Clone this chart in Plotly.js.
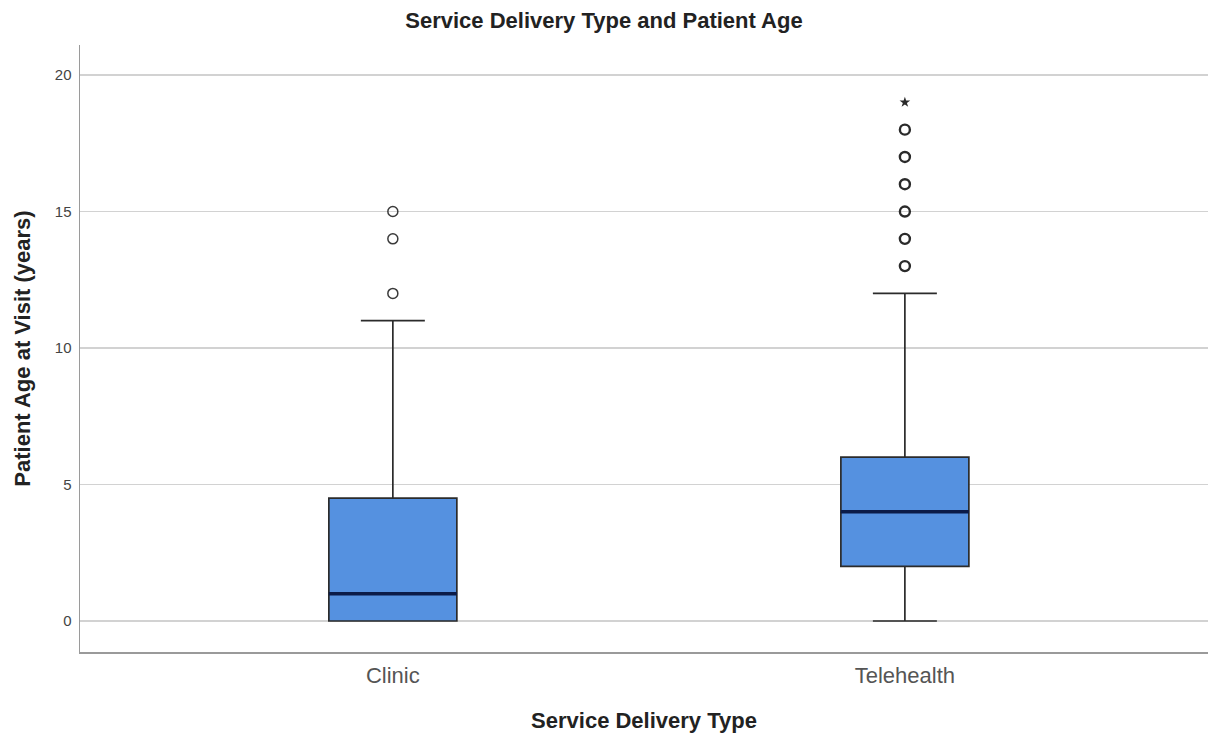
<!DOCTYPE html>
<html>
<head>
<meta charset="utf-8">
<script src="https://cdn.plot.ly/plotly-3.0.1.min.js"></script>
<style>html,body{margin:0;padding:0;background:#fff;}#chart{width:1208px;height:734px;}</style>
</head>
<body>
<div id="chart"></div>
<script>
// Data
const categories = ['Clinic', 'Telehealth'];
const lowerFence = [0, 0];
const q1 = [0, 2];
const median = [1, 4];
const q3 = [4.5, 6];
const upperFence = [11, 12];
const clinicOutliers = [12, 14, 15];
const telehealthOutliers = [13, 14, 15, 16, 17, 18];
const telehealthExtremes = [19];
const yTicks = [0, 5, 10, 15, 20];

const boxWidth = 0.25;
const font = 'Liberation Sans, Arial, sans-serif';

const traces = [
  {
    type: 'box',
    x: categories,
    q1: q1, median: median, q3: q3,
    lowerfence: lowerFence, upperfence: upperFence,
    width: boxWidth,
    whiskerwidth: 0.5,
    fillcolor: '#5591e0',
    line: {color: '#2b2b2b', width: 1.7},
    boxpoints: false,
    hoverinfo: 'skip',
    showlegend: false
  },
  {
    type: 'scatter', mode: 'markers',
    x: clinicOutliers.map(() => categories[0]),
    y: clinicOutliers,
    marker: {symbol: 'circle-open', size: 10, color: '#3a3a3a', line: {width: 1.5, color: '#3a3a3a'}},
    hoverinfo: 'skip', showlegend: false
  },
  {
    type: 'scatter', mode: 'markers',
    x: telehealthOutliers.map(() => categories[1]),
    y: telehealthOutliers,
    marker: {symbol: 'circle-open', size: 10, color: '#2a2a2a', line: {width: 2.4, color: '#2a2a2a'}},
    hoverinfo: 'skip', showlegend: false
  },
  {
    type: 'scatter', mode: 'markers',
    x: telehealthExtremes.map(() => categories[1]),
    y: telehealthExtremes,
    marker: {symbol: 'star', size: 8, color: '#2a2a2a'},
    hoverinfo: 'skip', showlegend: false
  }
];

const shapes = median.map((m, i) => ({
  type: 'line', xref: 'x', yref: 'y',
  x0: i - boxWidth / 2, x1: i + boxWidth / 2, y0: m, y1: m,
  line: {color: '#0b1b48', width: 3.5},
  layer: 'above'
}));

const layout = {
  width: 1208, height: 734,
  margin: {l: 80, r: 0, t: 45, b: 82},
  paper_bgcolor: '#ffffff', plot_bgcolor: '#ffffff',
  font: {family: font, color: '#333'},
  title: {text: '<b>Service Delivery Type and Patient Age</b>', font: {family: font, size: 22, color: '#222'}, x: 0.5, xanchor: 'center', y: 0.972, yanchor: 'middle'},
  xaxis: {
    type: 'category',
    range: [-0.611, 1.592],
    showgrid: false, zeroline: false,
    showline: true, linecolor: '#9a9a9a', linewidth: 1.5,
    ticks: '', ticklabelstandoff: 3,
    tickfont: {family: font, size: 22, color: '#555'},
    title: {text: '<b>Service Delivery Type</b>', font: {family: font, size: 22, color: '#222'}, standoff: 25}
  },
  yaxis: {
    range: [-1.135, 21.1],
    tickvals: yTicks,
    showgrid: true, gridcolor: '#d2d2d2', gridwidth: 1.5,
    zeroline: false,
    showline: true, linecolor: '#9a9a9a', linewidth: 1.5,
    ticks: '', ticklen: 0, ticklabelstandoff: 4,
    tickfont: {family: font, size: 15, color: '#444'},
    title: {text: '<b>Patient Age at Visit (years)</b>', font: {family: font, size: 22, color: '#222'}, standoff: 18}
  },
  shapes: shapes,
  showlegend: false
};

Plotly.newPlot('chart', traces, layout, {displayModeBar: false, staticPlot: true});
</script>
</body>
</html>
